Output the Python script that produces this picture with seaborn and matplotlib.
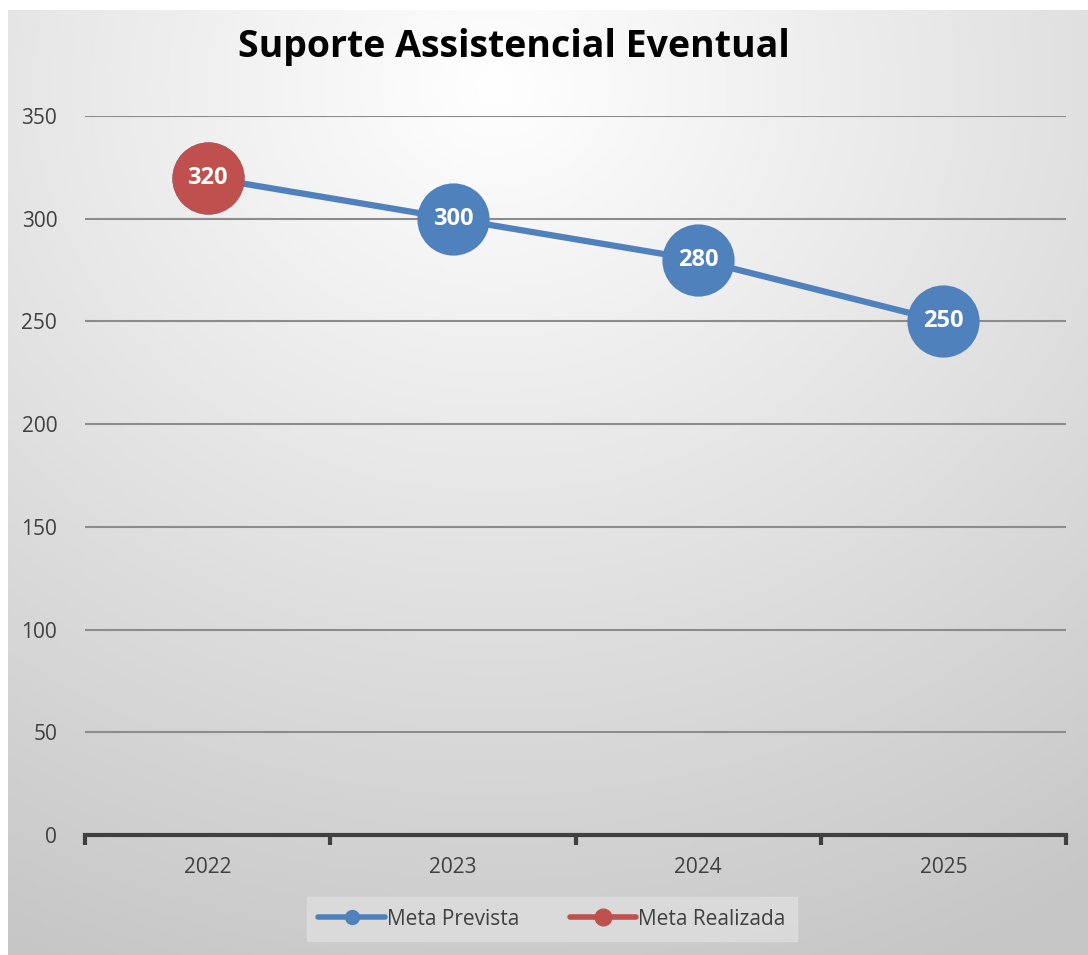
import matplotlib
matplotlib.use("Agg")
import matplotlib.pyplot as plt
import numpy as np
import seaborn as sns
from matplotlib.lines import Line2D

# dados do grafico
anos = ["2022", "2023", "2024", "2025"]
meta_prevista = [320, 300, 280, 250]
meta_realizada = [320, np.nan, np.nan, np.nan]
y_ticks = [0, 50, 100, 150, 200, 250, 300, 350]

AZUL = "#4F81BD"
VERMELHO = "#C0504D"
CINZA_TXT = "#404040"

sns.set_theme(style="white")
plt.rcParams["font.family"] = ["Open Sans", "DejaVu Sans"]

fig = plt.figure(figsize=(10.88, 9.55), dpi=100)
fig.patch.set_facecolor("white")

# fundo com gradiente radial (estilo Excel)
bg = fig.add_axes([8 / 1088, 0, 1 - 8 / 1088, 1 - 10 / 955], zorder=0)
h, w = 300, 340
yy, xx = np.mgrid[0:h, 0:w]
cx, cy = 0.45 * w, 0.08 * h
dist = np.sqrt(((xx - cx) / w) ** 2 + ((yy - cy) / h) ** 2)
dist = np.clip(dist, 0, 1)
val = 1.0 - 0.22 * dist
bg.imshow(np.dstack([val, val, val]), aspect="auto", extent=[0, 1, 0, 1], origin="upper")
bg.set_axis_off()

ax = fig.add_axes([85 / 1088, 1 - 835 / 955, (1066 - 85) / 1088, (835 - 116) / 955], zorder=1)
ax.patch.set_alpha(0)

sns.lineplot(x=anos, y=meta_prevista, ax=ax, color=AZUL, linewidth=4.5,
             marker="o", markersize=52, markeredgewidth=0, sort=False, zorder=3)
sns.lineplot(x=anos, y=meta_realizada, ax=ax, color=VERMELHO, linewidth=4.5,
             marker="o", markersize=52, markeredgewidth=0, sort=False, zorder=4)

for i, v in enumerate(meta_prevista):
    ax.text(i, v, f"{v}", ha="center", va="center", color="white",
            fontsize=17, fontweight="bold", zorder=5)

ax.set_xlim(-0.5, 3.5)
ax.set_ylim(0, 350)
ax.set_yticks(y_ticks)
ax.yaxis.grid(True, color="#8c8c8c", linewidth=1.5)
ax.set_axisbelow(True)
for s in ["top", "right", "left"]:
    ax.spines[s].set_visible(False)
ax.spines["bottom"].set_color(CINZA_TXT)
ax.spines["bottom"].set_linewidth(3)
ax.spines["bottom"].set_zorder(2)

ax.tick_params(axis="y", length=0, labelsize=15, labelcolor=CINZA_TXT, pad=20)
ax.set_xticks([0, 1, 2, 3])
ax.set_xticklabels(anos)
ax.tick_params(axis="x", which="major", length=0, labelsize=15, labelcolor=CINZA_TXT, pad=16)
# marcas entre categorias
ax.set_xticks([-0.5, 0.5, 1.5, 2.5, 3.5], minor=True)
ax.tick_params(axis="x", which="minor", bottom=True, length=7, width=3,
               color=CINZA_TXT, direction="out")
ax.set_xlabel("")
ax.set_ylabel("")

fig.text(0.472, 0.951, "Suporte Assistencial Eventual", ha="center", va="center",
         fontsize=27, fontweight="bold", color="black")

handles = [
    Line2D([], [], color=AZUL, linewidth=4, marker="o", markersize=10),
    Line2D([], [], color=VERMELHO, linewidth=4, marker="o", markersize=12),
]
leg = fig.legend(handles, ["Meta Prevista", "Meta Realizada"], loc="center",
                 bbox_to_anchor=(552 / 1088, 1 - 919 / 955), ncol=2, frameon=True,
                 fontsize=15, handlelength=3.2, handletextpad=0.1, columnspacing=2.4,
                 borderpad=0.55, fancybox=False)
leg.get_frame().set_facecolor("#dedede")
leg.get_frame().set_edgecolor("#dedede")
for t in leg.get_texts():
    t.set_color(CINZA_TXT)

fig.savefig("out.png", dpi=100)
